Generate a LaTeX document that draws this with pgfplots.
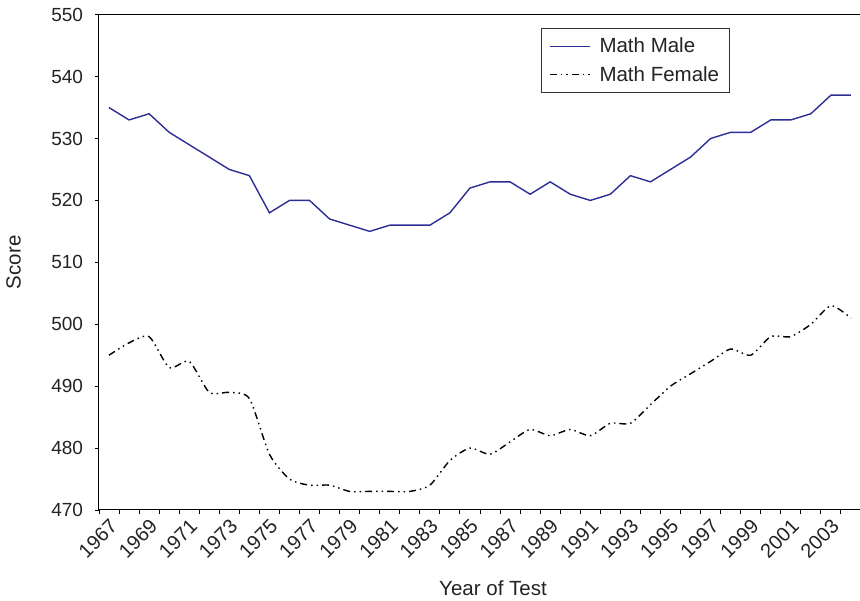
\documentclass[border=0pt]{standalone}
\usepackage{pgfplots}
\pgfplotsset{compat=1.18}
\usepackage{fontspec}
\setmainfont{Liberation Sans}
\definecolor{maleblue}{RGB}{45,45,150}
\definecolor{textgray}{RGB}{35,35,35}
\newcommand{\tickfont}{\fontsize{19}{22}\selectfont}
\newcommand{\xtickfont}{\fontsize{20}{22}\selectfont}
\newcommand{\bigfont}{\fontsize{20.5}{24}\selectfont}
\begin{document}
\begin{tikzpicture}
\begin{axis}[
  name=ax,
  scale only axis, width=762pt, height=495.3pt,
  xmin=1966.5, xmax=2004.5, ymin=470, ymax=550,
  xtick={1967,1969,...,2003},
  minor xtick={1966.5,1967.5,...,2003.5},
  ytick={470,480,...,550},
  xtick pos=left, ytick pos=left,
  tick align=outside,
  major x tick style={draw=none},
  major tick length=4.5pt, minor tick length=4.5pt,
  tick style={black, line width=0.9pt},
  axis line style={black, line width=1pt},
  /pgf/number format/assume math mode=true,
  /pgf/number format/1000 sep={},
  tick label style={font=\tickfont, text=textgray},
  yticklabel style={xshift=-8pt},
  xticklabel style={font=\xtickfont, xshift=7pt, yshift=-6pt, rotate=45, anchor=east},
  xlabel={Year of Test}, ylabel={Score},
  label style={font=\bigfont, text=textgray},
  xlabel style={at={(rel axis cs:0,0)}, anchor=center, xshift=394pt, yshift=-78pt},
  ylabel style={at={(rel axis cs:0,0.5)}, anchor=center, yshift=85.5pt},
  legend style={at={(rel axis cs:0,1)}, anchor=north west, xshift=441.7pt, yshift=-13pt,
    draw=black!80, line width=0.8pt, font=\bigfont, text=textgray,
    row sep=8pt, column sep=7pt, inner xsep=8pt, inner ysep=8pt},
  legend cell align=left,
  legend image code/.code={\draw[#1] (0pt,0pt) -- (40pt,0pt);},
]
\addplot[maleblue, line width=1.4pt] coordinates {
  (1967,535)(1968,533)(1969,534)(1970,531)(1971,529)(1972,527)(1973,525)(1974,524)
  (1975,518)(1976,520)(1977,520)(1978,517)(1979,516)(1980,515)(1981,516)(1982,516)
  (1983,516)(1984,518)(1985,522)(1986,523)(1987,523)(1988,521)(1989,523)(1990,521)
  (1991,520)(1992,521)(1993,524)(1994,523)(1995,525)(1996,527)(1997,530)(1998,531)
  (1999,531)(2000,533)(2001,533)(2002,534)(2003,537)(2004,537)};
\addlegendentry{Math Male}
\addplot[black, line width=1.4pt, smooth, tension=0.4,
  dash pattern=on 7pt off 4pt on 1.5pt off 4pt on 1.5pt off 4pt] coordinates {
  (1967,495)(1968,497)(1969,498)(1970,493)(1971,494)(1972,489)(1973,489)(1974,488)
  (1975,479)(1976,475)(1977,474)(1978,474)(1979,473)(1980,473)(1981,473)(1982,473)
  (1983,474)(1984,478)(1985,480)(1986,479)(1987,481)(1988,483)(1989,482)(1990,483)
  (1991,482)(1992,484)(1993,484)(1994,487)(1995,490)(1996,492)(1997,494)(1998,496)
  (1999,495)(2000,498)(2001,498)(2002,500)(2003,503)(2004,501)};
\addlegendentry{Math Female}
\end{axis}
\pgfresetboundingbox
\path[use as bounding box] ([shift={(-99pt,-91pt)}]ax.south west) rectangle ([shift={(761pt,14.7pt)}]ax.north west);
\end{tikzpicture}
\end{document}
